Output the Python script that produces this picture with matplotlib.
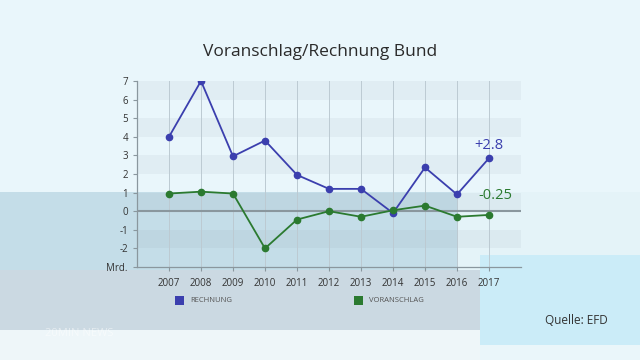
import matplotlib
matplotlib.use("Agg")
from matplotlib import pyplot as plt
from matplotlib.patches import Rectangle

years = [2007, 2008, 2009, 2010, 2011, 2012, 2013, 2014, 2015, 2016, 2017]
rechnung = [4.0, 7.0, 2.95, 3.8, 1.95, 1.2, 1.2, -0.1, 2.35, 0.9, 2.85]
voranschlag = [0.95, 1.05, 0.95, -2.0, -0.45, 0.0, -0.3, 0.05, 0.3, -0.3, -0.2]
y_ticks = [-3, -2, -1, 0, 1, 2, 3, 4, 5, 6, 7]
y_labels = ["Mrd.", "-2", "-1", "0", "1", "2", "3", "4", "5", "6", "7"]

TITLE = "Voranschlag/Rechnung Bund"
BLUE = "#3b3fae"
GREEN = "#2b7a30"

plt.rcParams["font.family"] = ["Open Sans", "DejaVu Sans"]

fig = plt.figure(figsize=(6.4, 3.6), dpi=100)
fig.patch.set_facecolor("#eaf6fa")

# background panels (screen graphic)
def panel(x0, y0, x1, y1, color):
    fig.add_artist(Rectangle((x0 / 640, 1 - y1 / 360), (x1 - x0) / 640, (y1 - y0) / 360,
                             transform=fig.transFigure, color=color, zorder=-10, lw=0))

panel(0, 0, 640, 192, "#e9f6fb")
panel(0, 192, 640, 345, "#e4f3f8")
panel(0, 192, 457, 270, "#c4dde8")
panel(0, 270, 480, 330, "#cbd9e2")
panel(480, 255, 640, 345, "#cbecf8")
panel(0, 330, 480, 360, "#eef6f9")

ax = fig.add_axes([137 / 640, 1 - 267 / 360, (521 - 137) / 640, (267 - 81) / 360])
ax.set_facecolor("none")

for lo in [6, 4, 2, 0, -2]:
    ax.axhspan(lo, lo + 1, color="#7a8a95", alpha=0.08, lw=0, zorder=0)
for yr in years:
    ax.axvline(yr, color="#bccad2", lw=0.7, zorder=0.5)
ax.axhline(0, color="#8a979e", lw=1.5, zorder=1)

ax.plot(years, rechnung, color=BLUE, lw=1.3, marker="o", ms=4.5, zorder=3)
ax.plot(years, voranschlag, color=GREEN, lw=1.3, marker="o", ms=4.5, zorder=3)

ax.text(2017, 3.55, "+2.8", color=BLUE, fontsize=10.5, ha="center", va="center")
ax.text(2017.2, 0.86, "-0.25", color=GREEN, fontsize=10.5, ha="center", va="center")

ax.set_xlim(2006, 2018)
ax.set_ylim(-3, 7)
ax.set_xticks(years)
ax.set_yticks(y_ticks)
ax.set_yticklabels(y_labels)
ax.tick_params(colors="#8a979e", labelcolor="#333333", labelsize=7, length=3, width=0.8)
ax.tick_params(axis="x", pad=5)
for s in ["top", "right"]:
    ax.spines[s].set_visible(False)
for s in ["left", "bottom"]:
    ax.spines[s].set_color("#8a979e")
    ax.spines[s].set_linewidth(0.9)

fig.text(320 / 640, 1 - 52 / 360, TITLE, fontsize=12.5, color="#2a2a2a", ha="center", va="center")

# legend
for x, col, lab in [(175, BLUE, "RECHNUNG"), (354, GREEN, "VORANSCHLAG")]:
    fig.add_artist(Rectangle((x / 640, 1 - 305 / 360), 9 / 640, 9 / 360,
                             transform=fig.transFigure, color=col, lw=0))
    fig.text((x + 15) / 640, 1 - 301 / 360, lab, fontsize=5.5, color="#555555", va="center")

fig.text(608 / 640, 1 - 320 / 360, "Quelle: EFD", fontsize=8.5, color="#333333", ha="right", va="center")
fig.text(45 / 640, 1 - 333 / 360, "20MIN NEWS", fontsize=8, color="white", alpha=0.5, va="center")

fig.savefig("out.png", dpi=100)
